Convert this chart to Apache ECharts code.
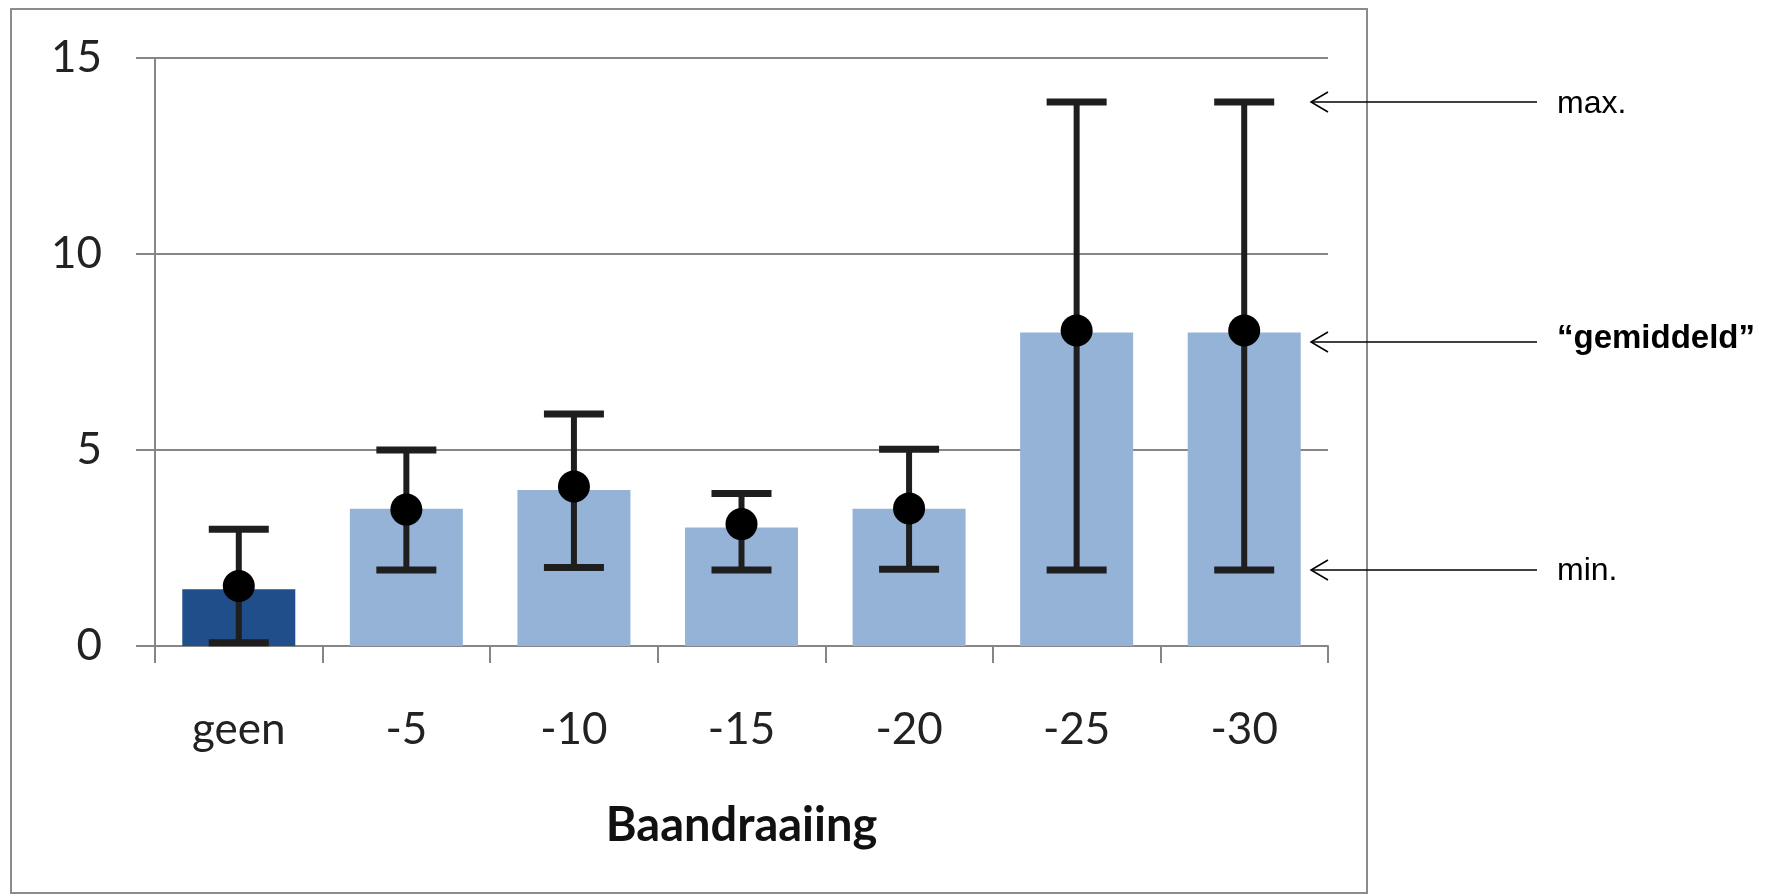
<!DOCTYPE html>
<html lang="nl" style="height: 100%">
<head>
  <meta charset="utf-8">
</head>
<body style="height: 100%; margin: 0; background: #fff">
  <div id="container" style="width: 1787px; height: 896px"></div>

  <script type="text/javascript" src="https://cdn.jsdelivr.net/npm/echarts@6/dist/echarts.min.js"></script>

  <script type="text/javascript">
    // Baandraaiing: gemiddelde met min/max
    var categories = ['geen', '-5', '-10', '-15', '-20', '-25', '-30'];
    var barValues = [1.45, 3.5, 3.98, 3.02, 3.5, 8.0, 8.0];
    var meanValues = [1.53, 3.48, 4.07, 3.11, 3.51, 8.05, 8.05];
    var maxValues = [2.98, 5.0, 5.92, 3.89, 5.02, 13.88, 13.88];
    var minValues = [0.08, 1.94, 2.0, 1.94, 1.96, 1.94, 1.94];
    var yTicks = [0, 5, 10, 15];

    var dom = document.getElementById('container');
    var myChart = echarts.init(dom, null, { renderer: 'canvas' });

    var darkBar = '#1f4e8a';
    var lightBar = '#95b3d7';
    var errColor = '#1e1e1e';

    var errData = categories.map(function (c, i) {
      return [i, minValues[i], maxValues[i]];
    });

    var option = {
      animation: false,
      backgroundColor: '#fff',
      grid: { left: 155, right: 459, top: 58, bottom: 250 },
      xAxis: {
        type: 'category',
        data: categories,
        axisLine: { lineStyle: { color: '#868686', width: 2 } },
        axisTick: { show: true, length: 17, lineStyle: { color: '#868686', width: 2 } },
        axisLabel: {
          margin: 62,
          fontFamily: 'Lato',
          fontSize: 44,
          color: '#222'
        },
        name: 'Baandraaiing',
        nameLocation: 'middle',
        nameGap: 156,
        nameTextStyle: {
          fontFamily: 'Lato',
          fontWeight: 'bold',
          fontSize: 47,
          color: '#111'
        }
      },
      yAxis: {
        type: 'value',
        min: yTicks[0],
        max: yTicks[yTicks.length - 1],
        interval: 5,
        axisLine: { show: true, lineStyle: { color: '#868686', width: 2 } },
        axisTick: { show: true, length: 19, lineStyle: { color: '#868686', width: 2 } },
        axisLabel: {
          margin: 53,
          fontFamily: 'Lato',
          fontSize: 44,
          color: '#222'
        },
        splitLine: { lineStyle: { color: '#868686', width: 2 } }
      },
      series: [
        {
          type: 'bar',
          barWidth: 113,
          data: barValues.map(function (v, i) {
            return { value: v, itemStyle: { color: i === 0 ? darkBar : lightBar } };
          }),
          z: 2
        },
        {
          type: 'custom',
          data: errData,
          z: 3,
          renderItem: function (params, api) {
            var x = api.coord([api.value(0), 0])[0];
            var lo = api.coord([api.value(0), api.value(1)])[1];
            var hi = api.coord([api.value(0), api.value(2)])[1];
            var capW = 60, capH = 7, lineW = 6;
            return {
              type: 'group',
              children: [
                { type: 'rect', shape: { x: x - lineW / 2, y: hi, width: lineW, height: lo - hi }, style: { fill: errColor } },
                { type: 'rect', shape: { x: x - capW / 2, y: hi - capH / 2, width: capW, height: capH }, style: { fill: errColor } },
                { type: 'rect', shape: { x: x - capW / 2, y: lo - capH / 2, width: capW, height: capH }, style: { fill: errColor } }
              ]
            };
          }
        },
        {
          type: 'scatter',
          data: meanValues,
          symbol: 'circle',
          symbolSize: 32,
          itemStyle: { color: '#000', opacity: 1 },
          z: 4
        }
      ],
      graphic: [
        { type: 'rect', shape: { x: 11, y: 9, width: 1356, height: 884 }, style: { fill: null, stroke: '#8c8c8c', lineWidth: 2 }, z: 0 },
        // pijlen met uitleg
        { type: 'line', shape: { x1: 1311, y1: 102, x2: 1537, y2: 102 }, style: { stroke: '#000', lineWidth: 1.5 } },
        { type: 'polyline', shape: { points: [[1328, 92], [1311, 102], [1328, 112]] }, style: { stroke: '#000', lineWidth: 1.5, fill: null } },
        { type: 'text', x: 1557, y: 104, style: { text: 'max.', font: '32px "Liberation Sans"', fill: '#000', verticalAlign: 'middle' } },
        { type: 'line', shape: { x1: 1311, y1: 342, x2: 1537, y2: 342 }, style: { stroke: '#000', lineWidth: 1.5 } },
        { type: 'polyline', shape: { points: [[1328, 332], [1311, 342], [1328, 352]] }, style: { stroke: '#000', lineWidth: 1.5, fill: null } },
        { type: 'text', x: 1557, y: 339, style: { text: '“gemiddeld”', font: 'bold 33px "Liberation Sans"', fill: '#000', verticalAlign: 'middle' } },
        { type: 'line', shape: { x1: 1311, y1: 570, x2: 1537, y2: 570 }, style: { stroke: '#000', lineWidth: 1.5 } },
        { type: 'polyline', shape: { points: [[1328, 560], [1311, 570], [1328, 580]] }, style: { stroke: '#000', lineWidth: 1.5, fill: null } },
        { type: 'text', x: 1557, y: 571, style: { text: 'min.', font: '32px "Liberation Sans"', fill: '#000', verticalAlign: 'middle' } }
      ]
    };

    myChart.setOption(option);
    window.addEventListener('resize', myChart.resize);
  </script>
</body>
</html>
